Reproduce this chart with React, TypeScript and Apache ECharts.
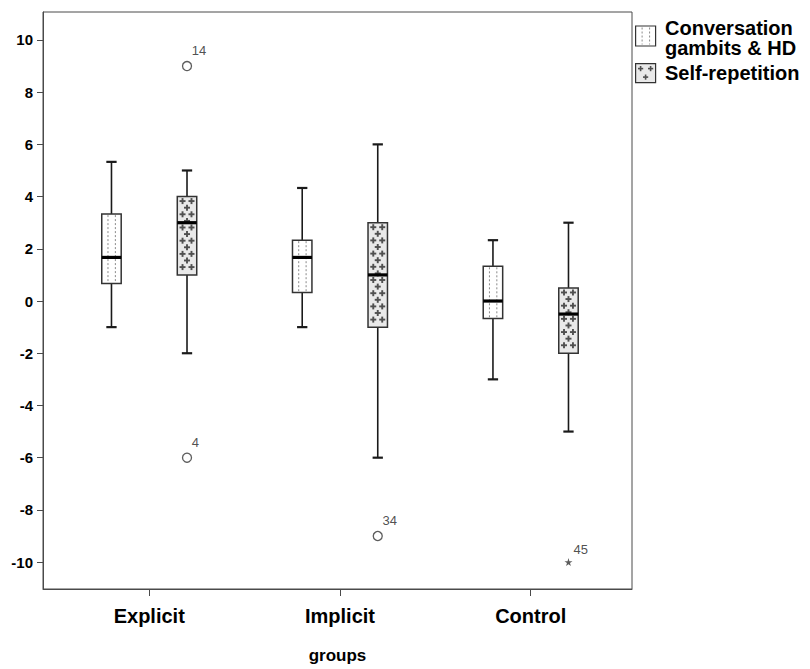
import React, { useEffect, useRef } from "react";
import * as echarts from "echarts";

// Groups on the x axis
const categories = ["Explicit", "Implicit", "Control"];
const seriesNames = ["Conversation gambits & HD", "Self-repetition"];
const legendLines = [["Conversation", "gambits & HD"], ["Self-repetition"]];

// Five-number summaries per group: [min, Q1, median, Q3, max]
const conversationGambits = [
  [-1, 0.67, 1.67, 3.33, 5.33],
  [-1, 0.33, 1.67, 2.33, 4.33],
  [-3, -0.67, 0, 1.33, 2.33],
];
const selfRepetition = [
  [-2, 1, 3, 4, 5],
  [-6, -1, 1, 3, 6],
  [-5, -2, -0.5, 0.5, 3],
];

// Outliers (circles) and extremes (stars): [group, series, value, case]
const outliers: [number, number, number, string][] = [
  [0, 1, 9, "14"],
  [0, 1, -6, "4"],
  [1, 1, -9, "34"],
];
const extremes: [number, number, number, string][] = [[2, 1, -10, "45"]];

const yTicks = [-10, -8, -6, -4, -2, 0, 2, 4, 6, 8, 10];

// Geometry in x-axis units (one unit per group)
const SIDE_OFFSET = 0.198;
const BOX_HALF = 0.051;
const CAP_HALF = 0.027;

const INK = "#1a1a1a";
const FONT = "'Liberation Sans', Arial, sans-serif";

const STAR =
  "path://M50,0 L61,35 L98,35 L68,57 L79,91 L50,70 L21,91 L32,57 L2,35 L39,35 Z";

function boxRenderer(side: number, pattern: "dots" | "plus") {
  return (params: any, api: any) => {
    const g = api.value(0) as number;
    const x = g + side * SIDE_OFFSET;
    const unit = api.size([1, 0])[0];
    const cx = api.coord([x, 0])[0];
    const yMin = api.coord([x, api.value(1)])[1];
    const yQ1 = api.coord([x, api.value(2)])[1];
    const yMed = api.coord([x, api.value(3)])[1];
    const yQ3 = api.coord([x, api.value(4)])[1];
    const yMax = api.coord([x, api.value(5)])[1];
    const hw = BOX_HALF * unit;
    const ch = CAP_HALF * unit;
    const left = cx - hw;
    const w = hw * 2;
    const children: any[] = [];
    const line = (x1: number, y1: number, x2: number, y2: number, lw: number, stroke = INK, dash?: number[]) =>
      children.push({
        type: "line",
        shape: { x1, y1, x2, y2 },
        style: { stroke, lineWidth: lw, lineDash: dash },
      });

    // whiskers and caps
    line(cx, yMax, cx, yQ3, 1.6);
    line(cx, yQ1, cx, yMin, 1.6);
    line(cx - ch, yMax, cx + ch, yMax, 2.2);
    line(cx - ch, yMin, cx + ch, yMin, 2.2);

    // box body
    children.push({
      type: "rect",
      shape: { x: left, y: yQ3, width: w, height: yQ1 - yQ3 },
      style: { fill: pattern === "plus" ? "#e9e9e9" : "#ffffff", stroke: "#333", lineWidth: 1.5 },
    });

    if (pattern === "dots") {
      line(left + w * 0.32, yQ3 + 1, left + w * 0.32, yQ1 - 1, 1, "#8a8a8a", [2, 2]);
      line(left + w * 0.7, yQ3 + 1, left + w * 0.7, yQ1 - 1, 1, "#8a8a8a", [2, 2]);
    } else {
      const arm = 3;
      const step = 6.6;
      let row = 0;
      for (let yy = yQ3 + 4.5; yy <= yQ1 - 3.5; yy += step, row++) {
        const xs = row % 2 === 0 ? [0.27, 0.73] : [0.5];
        xs.forEach((f) => {
          const px = left + w * f;
          line(px - arm, yy, px + arm, yy, 1.9, "#505050");
          line(px, yy - arm, px, yy + arm, 1.9, "#505050");
        });
      }
    }

    // median
    line(left, yMed, left + w, yMed, 3.2, "#000");

    return { type: "group", children };
  };
}

function toBoxData(rows: number[][]) {
  return rows.map((r, i) => [i, ...r]);
}

function toPointData(rows: [number, number, number, string][]) {
  return rows.map(([g, s, v, id]) => [g + (s === 0 ? -SIDE_OFFSET : SIDE_OFFSET), v, id]);
}

export default function App() {
  const ref = useRef<HTMLDivElement>(null);

  useEffect(() => {
    if (!ref.current) return;
    const chart = echarts.init(ref.current, null, { renderer: "svg" });

    const pointLabel = (pos: [number, number]) => ({
      show: true,
      position: pos,
      formatter: (p: any) => p.value[2],
      fontFamily: FONT,
      fontSize: 13,
      color: "#222222",
    });

    const plus = (x: number, y: number) => [
      { type: "line", shape: { x1: x - 2.6, y1: y, x2: x + 2.6, y2: y }, style: { stroke: "#505050", lineWidth: 1.6 } },
      { type: "line", shape: { x1: x, y1: y - 2.6, x2: x, y2: y + 2.6 }, style: { stroke: "#505050", lineWidth: 1.6 } },
    ];

    const legendText = (text: string, top: number) => ({
      type: "text",
      left: 665,
      top,
      style: {
        text,
        fontFamily: FONT,
        fontWeight: "bold",
        fontSize: 20,
        lineHeight: 20,
        fill: "#000",
      },
    });

    chart.setOption({
      animation: false,
      backgroundColor: "#ffffff",
      grid: {
        left: 43,
        top: 12,
        width: 589,
        height: 580,
        show: true,
        borderColor: "#4a4a4a",
        borderWidth: 1,
        backgroundColor: "transparent",
      },
      xAxis: {
        type: "value",
        min: -0.557,
        max: 2.531,
        name: "groups",
        nameLocation: "middle",
        nameGap: 58,
        nameTextStyle: { fontFamily: FONT, fontWeight: "bold", fontSize: 17, color: "#000" },
        axisLine: { show: true, onZero: false, lineStyle: { color: "#4a4a4a", width: 1 } },
        axisTick: { show: true, customValues: [0, 1, 2], length: 7, lineStyle: { color: "#4a4a4a" } },
        axisLabel: {
          customValues: [0, 1, 2],
          formatter: (v: number) => categories[Math.round(v)] ?? "",
          margin: 17,
          fontFamily: FONT,
          fontWeight: "bold",
          fontSize: 20,
          color: "#000",
        },
        splitLine: { show: false },
      },
      yAxis: {
        type: "value",
        min: -11.03,
        max: 11.07,
        axisLine: { show: true, onZero: false, lineStyle: { color: "#4a4a4a", width: 1 } },
        axisTick: { show: true, customValues: yTicks, length: 6, lineStyle: { color: "#4a4a4a" } },
        axisLabel: {
          customValues: yTicks,
          margin: 10,
          fontFamily: FONT,
          fontWeight: "bold",
          fontSize: 15,
          color: "#000",
        },
        splitLine: { show: false },
      },
      series: [
        {
          name: seriesNames[0],
          type: "custom",
          renderItem: boxRenderer(-1, "dots"),
          data: toBoxData(conversationGambits),
          encode: { x: 0, y: [1, 2, 3, 4, 5] },
          clip: false,
        },
        {
          name: seriesNames[1],
          type: "custom",
          renderItem: boxRenderer(1, "plus"),
          data: toBoxData(selfRepetition),
          encode: { x: 0, y: [1, 2, 3, 4, 5] },
          clip: false,
        },
        {
          type: "scatter",
          data: toPointData(outliers),
          symbol: "circle",
          symbolSize: 9,
          itemStyle: { color: "#ffffff", borderColor: "#333", borderWidth: 1.3 },
          label: pointLabel([10, -17]),
        },
        {
          type: "scatter",
          data: toPointData(extremes),
          symbol: STAR,
          symbolSize: 8,
          itemStyle: { color: "#333" },
          label: pointLabel([9, -15]),
        },
      ],
      graphic: [
        {
          type: "group",
          left: 635,
          top: 25,
          children: [
            { type: "rect", shape: { x: 0, y: 0, width: 20, height: 20 }, style: { fill: "#fff", stroke: "#333", lineWidth: 1.2 } },
            { type: "line", shape: { x1: 6.5, y1: 1.5, x2: 6.5, y2: 18.5 }, style: { stroke: "#8a8a8a", lineWidth: 1, lineDash: [2, 2] } },
            { type: "line", shape: { x1: 14, y1: 1.5, x2: 14, y2: 18.5 }, style: { stroke: "#8a8a8a", lineWidth: 1, lineDash: [2, 2] } },
          ],
        },
        {
          type: "group",
          left: 635,
          top: 63,
          children: [
            { type: "rect", shape: { x: 0, y: 0, width: 20, height: 19 }, style: { fill: "#e9e9e9", stroke: "#333", lineWidth: 1.2 } },
            ...plus(5, 5),
            ...plus(15, 5),
            ...plus(10, 13.5),
          ],
        },
        legendText(legendLines[0][0], 18),
        legendText(legendLines[0][1], 38),
        legendText(legendLines[1][0], 63),
      ],
    });

    return () => chart.dispose();
  }, []);

  return (
    <div
      ref={ref}
      style={{ position: "fixed", left: 0, top: 0, width: 810, height: 669, background: "#fff" }}
    />
  );
}
